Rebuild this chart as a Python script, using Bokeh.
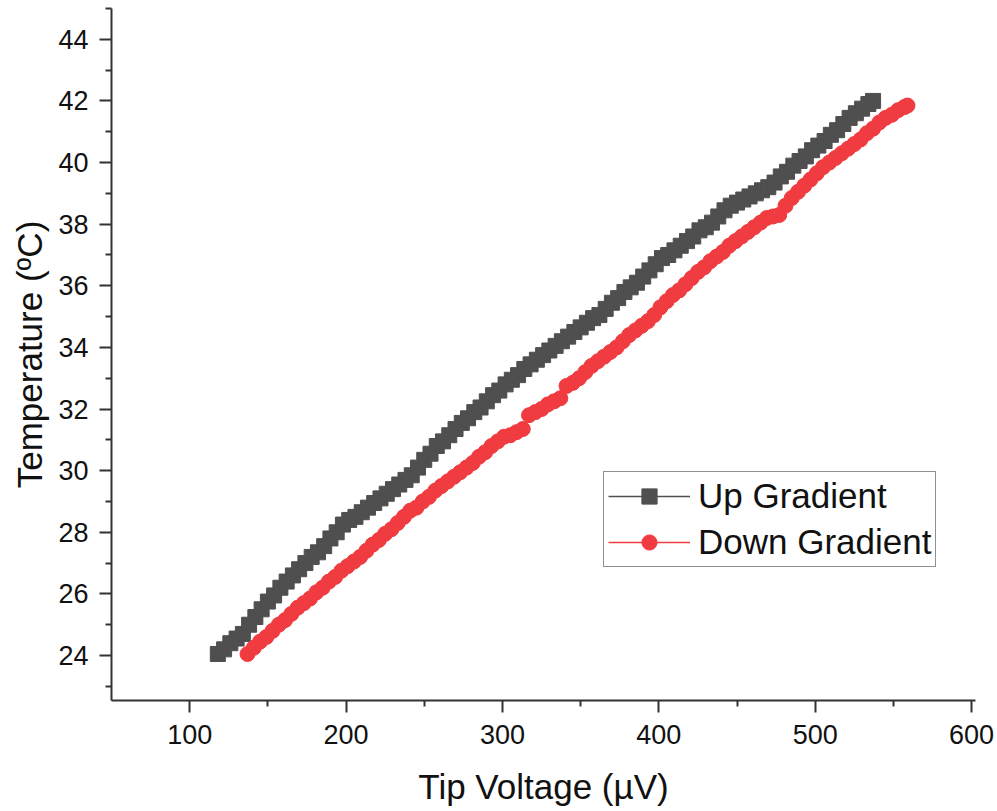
from bokeh.plotting import figure
from bokeh.models import FixedTicker, Range1d, Legend, LegendItem
from bokeh.embed import file_html
from bokeh.resources import INLINE

# ---- data ----
up_v = [118, 122, 126, 130, 134, 138, 142, 146, 150, 154, 158, 162, 166, 170, 174, 178,
        182, 186, 190, 194, 198, 202, 206, 210, 214, 218, 222, 226, 230, 234, 238, 242,
        246, 250, 254, 258, 262, 266, 270, 274, 278, 282, 286, 290, 294, 298, 302, 306,
        310, 314, 318, 322, 326, 330, 334, 338, 342, 346, 350, 354, 358, 362, 366, 370,
        374, 378, 382, 386, 390, 394, 398, 402, 406, 410, 414, 418, 422, 426, 430, 434,
        438, 442, 446, 450, 454, 458, 462, 466, 470, 474, 478, 482, 486, 490, 494, 498,
        502, 506, 510, 514, 518, 522, 526, 530, 534, 537]
up_t = [24.05, 24.2, 24.4, 24.55, 24.7, 25.0, 25.25, 25.5, 25.75, 25.95, 26.2, 26.4, 26.6, 26.8, 27.0, 27.2,
        27.35, 27.55, 27.8, 28.0, 28.25, 28.4, 28.5, 28.65, 28.8, 28.95, 29.1, 29.25, 29.4, 29.55, 29.7, 29.85,
        30.1, 30.35, 30.55, 30.8, 30.95, 31.15, 31.35, 31.55, 31.7, 31.9, 32.05, 32.25, 32.45, 32.6, 32.8, 32.95,
        33.1, 33.3, 33.45, 33.6, 33.75, 33.9, 34.05, 34.2, 34.35, 34.5, 34.65, 34.8, 34.95, 35.05, 35.25, 35.45,
        35.6, 35.8, 35.95, 36.1, 36.3, 36.5, 36.7, 36.9, 37.0, 37.15, 37.3, 37.45, 37.6, 37.8, 37.9, 38.05,
        38.25, 38.45, 38.6, 38.7, 38.8, 38.9, 39.0, 39.1, 39.2, 39.35, 39.55, 39.7, 39.9, 40.05, 40.2, 40.4,
        40.55, 40.7, 40.9, 41.05, 41.25, 41.45, 41.6, 41.75, 41.9, 42.0]

down_v = [137, 141, 145, 149, 153, 157, 161, 165, 169, 173, 177, 181, 185, 189, 193, 197,
          201, 205, 209, 213, 217, 221, 225, 229, 233, 237, 241, 245, 249, 253, 257, 261,
          265, 269, 273, 277, 281, 285, 289, 293, 297, 301, 305, 309, 313, 317, 321, 325,
          329, 333, 337, 341, 345, 349, 353, 357, 361, 365, 369, 373, 377, 381, 385, 389,
          393, 397, 401, 405, 409, 413, 417, 421, 425, 429, 433, 437, 441, 445, 449, 453,
          457, 461, 465, 469, 473, 477, 481, 485, 489, 493, 497, 501, 505, 509, 513, 517,
          521, 525, 529, 533, 537, 541, 545, 549, 553, 557, 559]
down_t = [24.05, 24.25, 24.45, 24.6, 24.8, 25.0, 25.15, 25.35, 25.55, 25.7, 25.85, 26.05, 26.2, 26.4, 26.55, 26.75,
          26.9, 27.05, 27.2, 27.4, 27.6, 27.75, 27.95, 28.1, 28.3, 28.5, 28.7, 28.8, 29.0, 29.15, 29.35, 29.5,
          29.65, 29.8, 29.95, 30.1, 30.25, 30.45, 30.6, 30.8, 30.95, 31.1, 31.15, 31.25, 31.35, 31.8, 31.9, 32.0,
          32.15, 32.25, 32.35, 32.75, 32.85, 33.0, 33.2, 33.4, 33.55, 33.7, 33.85, 34.0, 34.2, 34.4, 34.55, 34.7,
          34.85, 35.05, 35.3, 35.5, 35.7, 35.85, 36.05, 36.25, 36.45, 36.6, 36.8, 36.95, 37.1, 37.3, 37.45, 37.6,
          37.75, 37.9, 38.05, 38.2, 38.25, 38.3, 38.6, 38.85, 39.05, 39.25, 39.45, 39.65, 39.85, 40.0, 40.15, 40.3,
          40.45, 40.6, 40.75, 40.95, 41.1, 41.3, 41.45, 41.55, 41.7, 41.8, 41.85]

x_major = [100, 200, 300, 400, 500, 600]
x_minor = [150, 250, 350, 450, 550]
y_major = [24, 26, 28, 30, 32, 34, 36, 38, 40, 42, 44]
y_minor = [23, 25, 27, 29, 31, 33, 35, 37, 39, 41, 43, 45]

series_labels = ["Up Gradient", "Down Gradient"]
x_title = "Tip Voltage (µV)"
y_title = "Temperature (ºC)"

UP_COLOR = "#4f4f4f"
DOWN_COLOR = "#f03c40"
AXIS_COLOR = "#333333"
FONT = "Liberation Sans"

p = figure(width=997, height=811, output_backend="svg", toolbar_location=None,
           x_range=Range1d(50, 602.5), y_range=Range1d(22.54, 45.0),
           min_border_left=111, min_border_right=22, min_border_top=8,
           min_border_bottom=111, background_fill_color="white",
           border_fill_color="white")
p.outline_line_color = None
p.grid.visible = False

r_up_line = p.line(up_v, up_t, line_color=UP_COLOR, line_width=1.3)
r_up = p.scatter(up_v, up_t, marker="square", size=15, fill_color=UP_COLOR,
                 line_color=UP_COLOR, line_width=1)
r_dn_line = p.line(down_v, down_t, line_color=DOWN_COLOR, line_width=1.3)
r_dn = p.scatter(down_v, down_t, marker="circle", size=15, fill_color=DOWN_COLOR,
                 line_color=DOWN_COLOR, line_width=1)

for ax, ticks, minors in ((p.xaxis[0], x_major, x_minor), (p.yaxis[0], y_major, y_minor)):
    ax.ticker = FixedTicker(ticks=ticks, minor_ticks=minors)
    ax.axis_line_color = AXIS_COLOR
    ax.axis_line_width = 2
    ax.major_tick_line_color = AXIS_COLOR
    ax.minor_tick_line_color = AXIS_COLOR
    ax.major_tick_line_width = 2
    ax.minor_tick_line_width = 2
    ax.major_tick_in = 0
    ax.minor_tick_in = 0
    ax.major_tick_out = 12
    ax.minor_tick_out = 6
    ax.major_label_text_font = FONT
    ax.major_label_text_font_size = "27px"
    ax.major_label_text_color = "#111111"
    ax.axis_label_text_font = FONT
    ax.axis_label_text_font_size = "35px"
    ax.axis_label_text_font_style = "normal"
    ax.axis_label_text_color = "#111111"

p.xaxis.axis_label = x_title
p.yaxis.axis_label = y_title
p.xaxis.major_label_standoff = 12
p.yaxis.major_label_standoff = 11
p.xaxis.axis_label_standoff = 20
p.yaxis.axis_label_standoff = 6

legend = Legend(items=[LegendItem(label=series_labels[0], renderers=[r_up_line, r_up]),
                       LegendItem(label=series_labels[1], renderers=[r_dn_line, r_dn])],
                location=(492, 133))
legend.border_line_color = "#222222"
legend.border_line_width = 1.5
legend.background_fill_color = "white"
legend.background_fill_alpha = 1
legend.label_text_font = FONT
legend.label_text_font_size = "35px"
legend.label_text_color = "#111111"
legend.glyph_width = 82
legend.glyph_height = 38
legend.label_standoff = 8
legend.spacing = 6
legend.padding = 4
legend.margin = 0
p.add_layout(legend)

open("out.html", "w").write(file_html(p, INLINE))
